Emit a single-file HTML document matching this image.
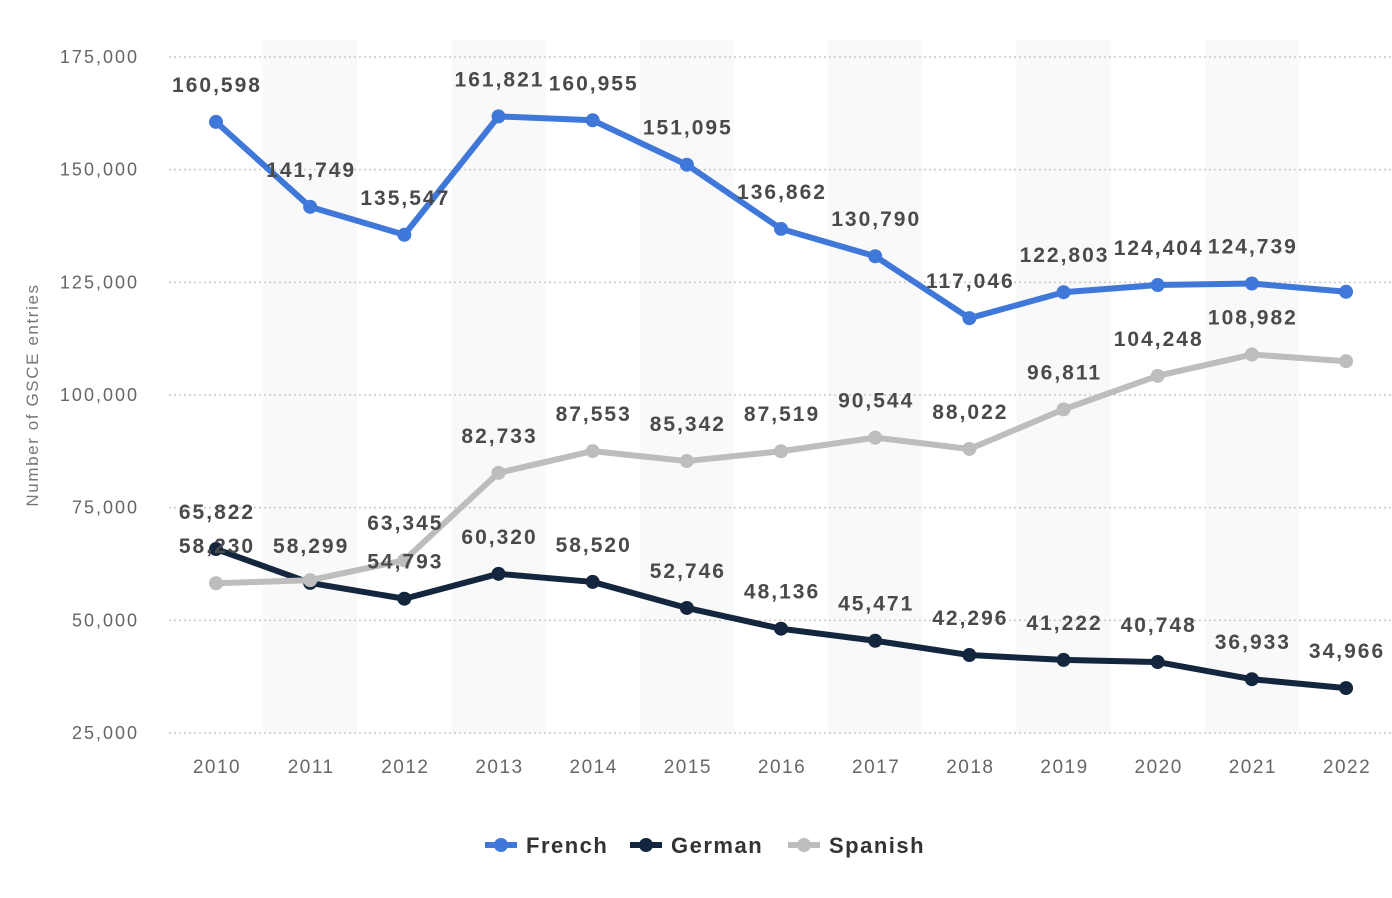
<!DOCTYPE html>
<html><head><meta charset="utf-8"><style>
body{margin:0;background:#fff;}
svg{display:block;font-family:"Liberation Sans",sans-serif;}
</style></head><body>
<svg id="c" width="1392" height="898" xmlns="http://www.w3.org/2000/svg"></svg>
<script>
const s=document.getElementById('c');
const Y=v=>733-(v-25000)/150000*676;
const X=i=>216+i*94.17;
let h='';
for(let i=1;i<13;i+=2){h+=`<rect x="${X(i)-47}" y="40" width="94.17" height="693" fill="#f9f9f9"/>`;}
for(let v=25000;v<=175000;v+=25000){const y=Y(v);
h+=`<line x1="169" x2="1392" y1="${y}" y2="${y}" stroke="#c8c8c8" stroke-width="1.5" stroke-dasharray="2,3"/>`;
h+=`<text x="139" y="${y+6}" text-anchor="end" font-size="18" letter-spacing="2" fill="#666">${v.toLocaleString('en-US')}</text>`;}
for(let i=0;i<13;i++)h+=`<text x="${X(i)+1}" y="773" text-anchor="middle" font-size="19" letter-spacing="1.5" fill="#666">${2010+i}</text>`;
h+=`<text transform="translate(38,395) rotate(-90)" text-anchor="middle" font-size="17" letter-spacing="1.6" fill="#777">Number of GSCE entries</text>`;
const F=[160598,141749,135547,161821,160955,151095,136862,130790,117046,122803,124404,124739,122900];
const G=[65822,58299,54793,60320,58520,52746,48136,45471,42296,41222,40748,36933,34966];
const S=[58230,58900,63345,82733,87553,85342,87519,90544,88022,96811,104248,108982,107500];
const ser=[[G,'#14263d',[1,1,1,1,1,1,1,1,1,1,1,1,1]],[S,'#bdbdbd',[1,0,1,1,1,1,1,1,1,1,1,1,0]],[F,'#3f78d8',[1,1,1,1,1,1,1,1,1,1,1,1,0]]];
let labs='';
for(const [d,c,l] of ser){
h+=`<polyline fill="none" stroke="${c}" stroke-width="6" stroke-linejoin="round" points="${d.map((v,i)=>X(i)+','+Y(v)).join(' ')}"/>`;
d.forEach((v,i)=>{h+=`<circle cx="${X(i)}" cy="${Y(v)}" r="7" fill="${c}"/>`;
if(l[i])labs+=`<text x="${X(i)+1}" y="${Y(v)-30}" text-anchor="middle" font-size="21" font-weight="bold" letter-spacing="2" fill="#4a4a4a">${v.toLocaleString('en-US')}</text>`;});}
h+=labs;
const leg=[['French','#3f78d8',485],['German','#14263d',630],['Spanish','#bdbdbd',788]];
for(const [n,c,x] of leg){h+=`<line x1="${x}" x2="${x+32}" y1="845" y2="845" stroke="${c}" stroke-width="6"/><circle cx="${x+16}" cy="845" r="7" fill="${c}"/><text x="${x+41}" y="853" font-size="22" font-weight="bold" letter-spacing="1.5" fill="#333">${n}</text>`;}
s.innerHTML=h;
</script>
</body></html>
